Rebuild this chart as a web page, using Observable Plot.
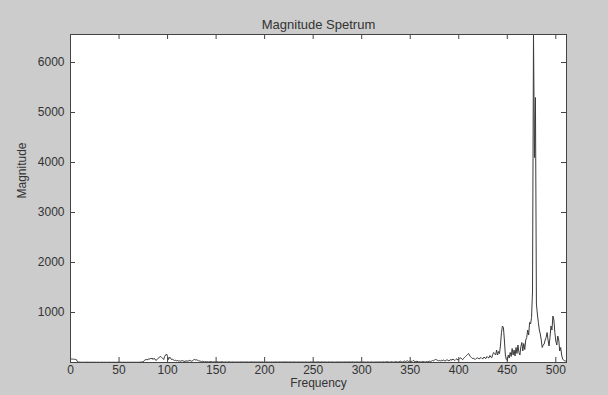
<!DOCTYPE html>
<html>
<head>
<meta charset="utf-8">
<script src="https://cdn.jsdelivr.net/npm/d3@7"></script>
<script src="https://cdn.jsdelivr.net/npm/@observablehq/plot@0.6"></script>
<style>
  html, body { margin: 0; padding: 0; background: #cccccc; }
  #chart svg { display: block; }
</style>
</head>
<body>
<div id="chart"></div>
<script>
const titleText = "Magnitude Spetrum";
const xLabel = "Frequency";
const yLabel = "Magnitude";
const xTicks = [0, 50, 100, 150, 200, 250, 300, 350, 400, 450, 500];
const yTicks = [1000, 2000, 3000, 4000, 5000, 6000];
const xDomain = [0, 511];
const yDomain = [0, 6560];

// magnitude for frequency bins 0..511
const magnitude = [
  70,70,68,66,65,62,60,20,10,8,
  6,5,7,5,4,6,5,7,6,5,
  5,6,4,5,7,6,5,4,6,5,
  5,4,6,5,4,5,6,5,4,5,
  6,5,4,5,6,5,4,5,6,5,
  5,6,5,4,5,6,5,4,5,6,
  5,4,6,5,4,5,6,5,4,5,
  6,5,8,10,12,15,40,55,60,50,
  70,65,80,75,90,60,85,70,40,55,
  80,95,110,120,100,80,60,120,150,170,
  120,60,110,90,60,70,50,40,45,35,
  40,30,35,25,30,40,30,25,20,35,
  30,25,35,45,30,25,40,55,60,50,
  55,45,35,30,25,20,25,20,15,20,
  15,18,12,15,20,18,10,12,15,10,
  12,15,10,8,12,10,15,12,8,10,
  12,8,10,15,12,10,8,12,10,8,
  10,8,12,10,8,10,12,8,10,12,
  8,10,12,8,10,8,12,10,8,10,
  12,8,10,8,10,12,8,10,12,8,
  10,8,12,10,8,10,8,12,10,8,
  10,12,8,10,8,12,10,8,10,12,
  8,10,12,8,10,8,12,10,8,10,
  12,8,10,8,10,12,8,10,12,8,
  10,8,12,10,8,10,8,12,10,8,
  10,12,8,10,8,12,10,8,10,12,
  8,10,12,8,10,8,12,10,8,10,
  12,8,10,8,10,12,8,10,12,8,
  10,8,12,10,8,10,8,12,10,8,
  10,12,8,10,8,12,10,8,10,12,
  8,10,12,8,10,8,12,10,8,10,
  12,8,10,8,10,12,8,10,12,8,
  10,8,12,10,8,10,15,12,10,8,
  12,15,10,8,12,18,15,10,12,20,
  25,15,10,20,30,18,25,35,20,30,
  15,25,20,40,30,15,20,25,15,10,
  15,10,12,20,15,10,12,18,15,20,
  25,20,30,40,35,50,60,55,45,35,
  40,30,45,35,50,40,30,45,55,40,
  35,50,60,45,70,55,40,60,75,50,
  60,80,95,70,55,85,100,120,140,160,
  180,150,120,100,80,90,70,60,80,95,
  85,70,90,100,80,75,110,90,80,120,
  100,90,140,110,95,160,200,180,150,250,
  150,220,180,350,600,730,700,450,150,60,
  40,150,90,200,120,280,150,250,130,300,
  180,350,200,150,320,400,230,380,260,450,
  500,650,550,800,770,900,1430,6560,4100,5300,
  1170,970,800,650,570,450,300,350,370,450,
  500,600,450,330,500,730,650,930,850,600,
  430,350,530,450,230,300,150,70,50,30,
  30,20
];
const freq = magnitude.map((_, i) => i);
const data = freq.map((f, i) => ({f, m: magnitude[i]}));

const W = 608, H = 395;
const mL = 70, mR = 42, mT = 34, mB = 33;
const frameW = W - mL - mR, frameH = H - mT - mB;
const tick = 5;
const font = "Liberation Sans, Arial, sans-serif";

const chart = Plot.plot({
  width: W,
  height: H,
  marginLeft: mL,
  marginRight: mR,
  marginTop: mT,
  marginBottom: mB,
  style: {background: "#cccccc", fontFamily: font, fontSize: "12px", color: "#333"},
  x: {domain: xDomain},
  y: {domain: yDomain},
  marks: [
    Plot.frame({fill: "white", stroke: "none"}),
    Plot.line(data, {x: "f", y: "m", stroke: "#3a3a3a", strokeWidth: 1}),
    Plot.frame({stroke: "#444", strokeWidth: 1}),
    // inward ticks, bottom & top
    Plot.ruleX(xTicks, {x: d => d, insetTop: frameH - tick, stroke: "#444"}),
    Plot.ruleX(xTicks, {x: d => d, insetBottom: frameH - tick, stroke: "#444"}),
    // inward ticks, left & right
    Plot.ruleY(yTicks, {y: d => d, insetRight: frameW - tick, stroke: "#444"}),
    Plot.ruleY(yTicks, {y: d => d, insetLeft: frameW - tick, stroke: "#444"}),
    Plot.axisX({ticks: xTicks, tickFormat: d3.format("d"), tickSize: 0, tickPadding: 3, label: null, fontSize: 12, fill: "#333"}),
    Plot.axisY({ticks: yTicks, tickFormat: d3.format("d"), tickSize: 0, tickPadding: 6, label: null, fontSize: 12, fill: "#333"}),
    Plot.text([titleText], {frameAnchor: "top", dy: -15, fontSize: 13, fill: "#333"}),
    Plot.text([xLabel], {frameAnchor: "bottom", dy: 24, fontSize: 12, fill: "#333"}),
    Plot.text([yLabel], {frameAnchor: "left", dx: -48, rotate: -90, fontSize: 12, fill: "#333"})
  ]
});
document.getElementById("chart").appendChild(chart);
</script>
</body>
</html>
